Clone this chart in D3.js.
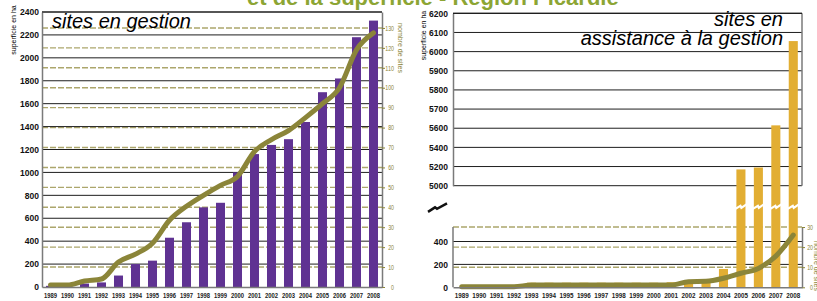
<!DOCTYPE html>
<html>
<head>
<meta charset="utf-8">
<script src="https://cdn.jsdelivr.net/npm/d3@7"></script>
<style>
body { margin: 0; background: #fff; }
svg { display: block; font-family: "Liberation Sans", Arial, sans-serif; }
</style>
</head>
<body>
<svg id="chart" width="817" height="301"></svg>
<script>
//Years shared by both charts
const years = ["1989", "1990", "1991", "1992", "1993", "1994", "1995", "1996", "1997", "1998",
               "1999", "2000", "2001", "2002", "2003", "2004", "2005", "2006", "2007", "2008"];

//Sites en gestion: surface (ha, bars) and number of sites (line)
const gestionSurface = [10, 8, 30, 40, 100, 200, 230, 430, 565, 695, 735, 1000, 1160, 1240, 1290, 1440, 1700, 1820, 2180, 2325];
const gestionSites = [1, 1, 3, 4, 12.5, 16.5, 22, 33.5, 40.5, 46, 51, 55.5, 68, 74, 78.5, 85, 92, 100, 119, 127.5];
const gestionSurfaceTicks = [0, 200, 400, 600, 800, 1000, 1200, 1400, 1600, 1800, 2000, 2200, 2400];
const gestionSitesTicks = [0, 10, 20, 30, 40, 50, 60, 70, 80, 90, 100, 110, 120, 130];

//Sites en assistance a la gestion
const assistSurface = [0, 0, 0, 0, 40, 40, 40, 40, 40, 40, 40, 40, 44, 55, 55, 160, 5170, 5190, 5615, 6055];
const assistSites = [0.3, 0.3, 0.3, 0.3, 1.1, 1.1, 1.1, 1.1, 1.1, 1.1, 1.1, 1.1, 1.1, 2.8, 3, 4.5, 7, 9.4, 15.5, 26];
const assistUpperTicks = [5000, 5200, 5400, 5600, 5700, 5800, 5900, 6000, 6100, 6200];
const assistLowerTicks = [0, 200, 400];
const assistSitesTicks = [0, 10, 20, 30];

//Colours
const purple = "#5f3292";
const gold = "#e2ae33";
const olive = "#8b8539";
const dashColor = "#aca66c";
const gridColor = "#1e1e1e";
const axisGray = "#7a7a7a";

const plainNumber = d3.format("d");

const svg = d3.select("#chart");

//Draws a set of horizontal grid lines
function hGrid(values, scale, x1, x2, dashed) {
    svg.append("g")
        .selectAll("line")
        .data(values)
        .join("line")
        .attr("x1", x1)
        .attr("x2", x2)
        .attr("y1", d => scale(d))
        .attr("y2", d => scale(d))
        .attr("stroke", dashed ? dashColor : gridColor)
        .attr("stroke-width", dashed ? 1.4 : 1)
        .attr("stroke-dasharray", dashed ? "6,2" : null);
}

//Styles the text of an axis
function axisText(g, size, colour, bold) {
    g.attr("font-family", null).attr("font-size", null);
    g.selectAll("text")
        .attr("font-size", size)
        .attr("font-weight", bold ? "bold" : "normal")
        .attr("fill", colour);
}

// ---------------- left chart: sites en gestion ----------------
const gl = {left: 42, right: 382, top: 12, bottom: 287};

const xG = d3.scaleBand().domain(years).range([gl.left, gl.right]).paddingInner(0.47).paddingOuter(0.235);
const yG = d3.scaleLinear().domain([0, 2400]).range([gl.bottom, gl.top]);
const ySitesG = d3.scaleLinear().domain([0, 138]).range([gl.bottom, gl.top]);

hGrid(gestionSitesTicks.slice(1), ySitesG, gl.left, gl.right, true);
hGrid(gestionSurfaceTicks.slice(1), yG, gl.left, gl.right, false);

svg.append("g")
    .selectAll("rect")
    .data(gestionSurface)
    .join("rect")
    .attr("x", (d, i) => xG(years[i]))
    .attr("width", xG.bandwidth())
    .attr("y", d => yG(d))
    .attr("height", d => yG(0) - yG(d))
    .attr("fill", purple);

const lineG = d3.line()
    .x((d, i) => xG(years[i]) + xG.bandwidth() / 2)
    .y(d => ySitesG(d))
    .curve(d3.curveMonotoneX);

svg.append("path")
    .datum(gestionSites)
    .attr("fill", "none")
    .attr("stroke", olive)
    .attr("stroke-width", 5)
    .attr("stroke-linecap", "round")
    .attr("d", lineG);

//Left axis (surface)
svg.append("g")
    .attr("transform", "translate(" + gl.left + ",0)")
    .call(d3.axisLeft(yG).tickValues(gestionSurfaceTicks).tickFormat(plainNumber).tickSize(0).tickPadding(3))
    .call(g => g.select(".domain").attr("stroke", axisGray).attr("stroke-width", 1.5))
    .call(g => axisText(g, 8.5, "#111", true));

//Right axis (number of sites)
svg.append("g")
    .attr("transform", "translate(" + gl.right + ",0)")
    .call(d3.axisRight(ySitesG).tickValues(gestionSitesTicks).tickSize(3).tickSizeOuter(0))
    .call(g => g.select(".domain").attr("stroke", axisGray).attr("stroke-width", 1.5))
    .call(g => g.selectAll(".tick line").attr("stroke", olive))
    .call(g => axisText(g, 7, olive, false))
    .call(g => g.selectAll("text").attr("text-anchor", "end").attr("x", 12)
        .attr("textLength", d => String(d).length * 2.9).attr("lengthAdjust", "spacingAndGlyphs"));

//Bottom axis (years)
svg.append("g")
    .attr("transform", "translate(0," + gl.bottom + ")")
    .call(d3.axisBottom(xG).tickSize(0).tickPadding(6))
    .call(g => g.select(".domain").attr("stroke", axisGray).attr("stroke-width", 1.5))
    .call(g => axisText(g, 7, "#222", true))
    .call(g => g.selectAll("text").attr("textLength", 13).attr("lengthAdjust", "spacingAndGlyphs"));

//Top border
svg.append("line")
    .attr("x1", gl.left).attr("x2", gl.right)
    .attr("y1", gl.top).attr("y2", gl.top)
    .attr("stroke", gridColor).attr("stroke-width", 1.2);

svg.append("text")
    .attr("x", 52).attr("y", 28)
    .attr("font-size", 20).attr("font-style", "italic")
    .text("sites en gestion");

svg.append("text")
    .attr("transform", "translate(13.5,30) rotate(-90)")
    .attr("dy", "0.35em")
    .attr("text-anchor", "middle")
    .attr("font-size", 7)
    .text("superficie en ha");

svg.append("text")
    .attr("transform", "translate(400,48) rotate(90)")
    .attr("dy", "0.35em")
    .attr("text-anchor", "middle")
    .attr("font-size", 7)
    .attr("fill", olive)
    .text("nombre de sites");

// ---------------- right chart: sites en assistance à la gestion ----------------
const gr = {left: 453, right: 802, upperTop: 13.3, upperBottom: 185.7, lowerTop: 227, bottom: 287.3};
const upperStep = (gr.upperBottom - gr.upperTop) / 9;

const xA = d3.scaleBand().domain(years).range([gr.left, gr.right]).paddingInner(0.48).paddingOuter(0.24);
//Upper panel: 200 ha steps up to 5600, then 100 ha steps
const yUp = d3.scaleLinear().domain([5000, 5600, 6200])
    .range([gr.upperBottom, gr.upperBottom - 3 * upperStep, gr.upperTop]);
const yLow = d3.scaleLinear().domain([0, 400]).range([gr.bottom, gr.bottom - 45.8]);
const ySitesA = d3.scaleLinear().domain([0, 30]).range([gr.bottom, gr.lowerTop]);
const breakY = (gr.upperBottom + gr.lowerTop) / 2;

//Upper panel grid
hGrid(assistUpperTicks, yUp, gr.left, gr.right, false);
//Lower panel grid
hGrid(assistSitesTicks.slice(1), ySitesA, gr.left, gr.right, true);
hGrid(assistLowerTicks.slice(1), yLow, gr.left, gr.right, false);

const barTop = d => d >= 5000 ? yUp(d) : yLow(d);

svg.append("g")
    .selectAll("rect")
    .data(assistSurface)
    .join("rect")
    .attr("x", (d, i) => xA(years[i]))
    .attr("width", xA.bandwidth())
    .attr("y", d => barTop(d))
    .attr("height", d => yLow(0) - barTop(d))
    .attr("fill", gold);

//White break on the bars that go up into the upper panel
svg.append("g")
    .selectAll("path")
    .data(assistSurface.map((d, i) => ({v: d, year: years[i]})).filter(d => d.v >= 5000))
    .join("path")
    .attr("d", d => {
        const x0 = xA(d.year), w = xA.bandwidth();
        return "M" + (x0 - 1) + "," + (breakY + 2.5) + " L" + (x0 + w * 0.45) + "," + (breakY - 0.5) +
            " L" + (x0 + w * 0.55) + "," + (breakY + 1.5) + " L" + (x0 + w + 1) + "," + (breakY - 2);
    })
    .attr("fill", "none")
    .attr("stroke", "#fff")
    .attr("stroke-width", 2.2);

const lineA = d3.line()
    .x((d, i) => xA(years[i]) + xA.bandwidth() / 2)
    .y(d => ySitesA(d))
    .curve(d3.curveMonotoneX);

svg.append("path")
    .datum(assistSites)
    .attr("fill", "none")
    .attr("stroke", olive)
    .attr("stroke-width", 5)
    .attr("stroke-linecap", "round")
    .attr("d", lineA);

//Upper panel axis and frame
svg.append("g")
    .attr("transform", "translate(" + gr.left + ",0)")
    .call(d3.axisLeft(yUp).tickValues(assistUpperTicks).tickFormat(plainNumber).tickSize(0).tickPadding(5))
    .call(g => g.select(".domain").attr("stroke", axisGray).attr("stroke-width", 1.5))
    .call(g => axisText(g, 8.5, "#111", true));

svg.append("line")
    .attr("x1", gr.right).attr("x2", gr.right)
    .attr("y1", gr.upperTop).attr("y2", gr.upperBottom)
    .attr("stroke", axisGray).attr("stroke-width", 1.5);

svg.append("line")
    .attr("x1", gr.left).attr("x2", gr.right)
    .attr("y1", gr.upperTop).attr("y2", gr.upperTop)
    .attr("stroke", gridColor).attr("stroke-width", 1.2);

//Lower panel axes
svg.append("g")
    .attr("transform", "translate(" + gr.left + ",0)")
    .call(d3.axisLeft(yLow).tickValues(assistLowerTicks).tickFormat(plainNumber).tickSize(0).tickPadding(5))
    .call(g => g.select(".domain").remove())
    .call(g => axisText(g, 8.5, "#111", true));

svg.append("line")
    .attr("x1", gr.left).attr("x2", gr.left)
    .attr("y1", gr.lowerTop).attr("y2", gr.bottom)
    .attr("stroke", axisGray).attr("stroke-width", 1.5);

svg.append("g")
    .attr("transform", "translate(" + gr.right + ",0)")
    .call(d3.axisRight(ySitesA).tickValues(assistSitesTicks).tickSize(3).tickSizeOuter(0))
    .call(g => g.select(".domain").attr("stroke", axisGray).attr("stroke-width", 1.5))
    .call(g => g.selectAll(".tick line").attr("stroke", olive))
    .call(g => axisText(g, 7, olive, false))
    .call(g => g.selectAll("text").attr("text-anchor", "end").attr("x", 11)
        .attr("textLength", d => String(d).length * 2.9).attr("lengthAdjust", "spacingAndGlyphs"));

svg.append("g")
    .attr("transform", "translate(0," + gr.bottom + ")")
    .call(d3.axisBottom(xA).tickSize(0).tickPadding(6))
    .call(g => g.select(".domain").attr("stroke", axisGray).attr("stroke-width", 1.5))
    .call(g => axisText(g, 7, "#222", true))
    .call(g => g.selectAll("text").attr("textLength", 14).attr("lengthAdjust", "spacingAndGlyphs"));

//Axis break mark
svg.append("path")
    .attr("d", "M" + (gr.left - 25) + "," + (breakY + 5.5) + " L" + (gr.left - 18) + "," + (breakY + 1) +
        " L" + (gr.left - 16) + "," + (breakY + 2.5) + " L" + (gr.left - 6) + "," + (breakY - 3))
    .attr("fill", "none")
    .attr("stroke", "#111")
    .attr("stroke-width", 2.5);

svg.append("text")
    .attr("x", 783).attr("y", 25.5)
    .attr("text-anchor", "end")
    .attr("font-size", 20).attr("font-style", "italic")
    .text("sites en");

svg.append("text")
    .attr("x", 783).attr("y", 45)
    .attr("text-anchor", "end")
    .attr("font-size", 20).attr("font-style", "italic")
    .text("assistance à la gestion");

svg.append("text")
    .attr("transform", "translate(423.5,35.5) rotate(-90)")
    .attr("dy", "0.35em")
    .attr("text-anchor", "middle")
    .attr("font-size", 7)
    .text("superficie en ha");

svg.append("text")
    .attr("transform", "translate(816,266) rotate(90)")
    .attr("dy", "0.35em")
    .attr("text-anchor", "middle")
    .attr("font-size", 7)
    .attr("fill", olive)
    .text("nombre de sites");

//Page title, cut by the top edge in the reference
svg.append("text")
    .attr("x", 247).attr("y", 5)
    .attr("font-size", 22).attr("font-weight", "bold")
    .attr("fill", "#8ca534")
    .text("et de la superficie - Région Picardie");
</script>
</body>
</html>
